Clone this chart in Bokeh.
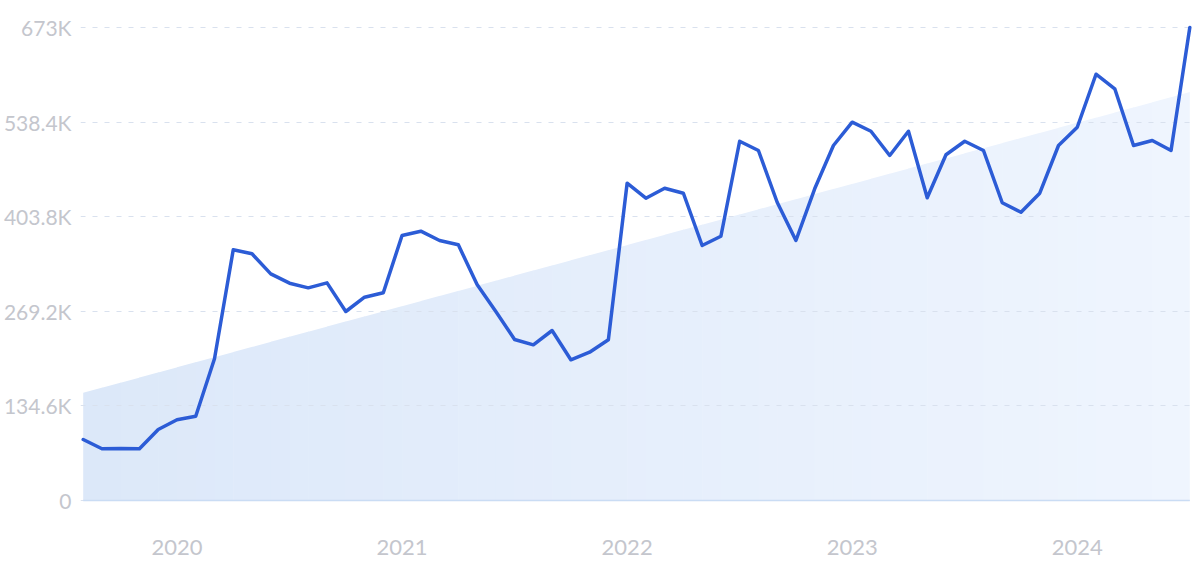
from bokeh.plotting import figure
from bokeh.models import Range1d, FixedTicker
from bokeh.embed import file_html
from bokeh.resources import INLINE
from bokeh.core.properties import value

# ---------------- data ----------------
months = [f"{2019 + (7 + i) // 12}-{(7 + i) % 12 + 1:02d}" for i in range(60)]  # 2019-08 .. 2024-07
visits = [86800, 73600, 74000, 73600, 101000, 114800, 119900, 201600, 356700, 351000,
          322500, 309200, 302600, 309700, 268900, 289300, 295500, 377000, 383200, 369900,
          363800, 307300, 268900, 229100, 221500, 241900, 200200, 211000, 228600, 451500,
          430100, 444300, 437200, 362800, 376000, 511200, 498000, 424400, 369900, 443500,
          505100, 538300, 525400, 490900, 525400, 430700, 491900, 511200, 498000, 423600,
          410200, 437200, 505100, 531100, 606500, 585800, 505100, 512200, 498000, 673000]
trend_start = 153200
trend_end = 581000
y_ticks = [0, 134600, 269200, 403800, 538400, 673000]
y_tick_labels = ["0", "134.6K", "269.2K", "403.8K", "538.4K", "673K"]
years = ["2020", "2021", "2022", "2023", "2024"]

# ---------------- layout helpers ----------------
x = list(range(len(visits)))
year_x = [months.index(f"{yr}-01") for yr in years]
upp = 673000 / 473.0          # value units per pixel
W, H = 1200, 562

p = figure(width=W, height=H, output_backend="svg", toolbar_location=None,
           x_axis_location=None,
           x_range=Range1d(-0.144, 59.144),
           y_range=Range1d(-62 * upp, 673000 + 12 * upp),
           min_border=0, min_border_left=80, min_border_right=8, min_border_top=15,
           min_border_bottom=0)
p.outline_line_color = None
p.background_fill_color = "white"
p.border_fill_color = "white"

# gradient-like trend area, drawn as vertical strips
n = len(x) - 1
c0 = (220, 232, 249)
c1 = (239, 245, 254)
xs, ys, cols = [], [], []
for k in range(n):
    a = x[0] + (x[-1] - x[0]) * k / n
    b = x[0] + (x[-1] - x[0]) * (k + 1) / n
    bb = b + (0.03 if k < n - 1 else 0)
    ta = trend_start + (trend_end - trend_start) * k / n
    tb = trend_start + (trend_end - trend_start) * (k + 1) / n
    t = (k + 0.5) / n
    col = tuple(int(round(c0[i] + (c1[i] - c0[i]) * t)) for i in range(3))
    xs.append([a, bb, bb, a])
    ys.append([0, 0, tb + (tb - ta) * 0.03, ta])
    cols.append("#%02x%02x%02x" % col)
strips = p.patches(xs, ys, fill_color=cols, line_color=None)
strips.level = "image"

# grid
p.ygrid.ticker = FixedTicker(ticks=y_ticks)
p.xgrid.visible = False
p.ygrid.grid_line_color = "#d9e1ee"
p.ygrid.grid_line_dash = "5 7"
p.ygrid.grid_line_width = 1

# baseline
p.line([x[0], x[-1]], [0, 0], line_color="#cadcf4", line_width=1.5)

# main series
p.line(x, visits, line_color="#2c5cd6", line_width=3.5, line_join="round", line_cap="round")

# y axis
ax = p.yaxis[0]
ax.ticker = FixedTicker(ticks=y_ticks)
ax.major_label_overrides = {v: s for v, s in zip(y_ticks, y_tick_labels)}
ax.axis_line_color = None
ax.major_tick_line_color = None
ax.minor_tick_line_color = None
ax.major_tick_out = 0
ax.major_tick_in = 0
ax.major_label_text_color = "#c4c6cd"
ax.major_label_text_font = "Lato"
ax.major_label_text_font_size = "21px"
ax.major_label_standoff = 9

# x (year) labels
p.text(x=year_x, y=[-47 * upp] * len(years), text=years,
       text_font=value("Lato"), text_font_size="22px", text_color="#c4c6cd",
       text_align="center", text_baseline="middle")

open("out.html", "w").write(file_html(p, INLINE))
